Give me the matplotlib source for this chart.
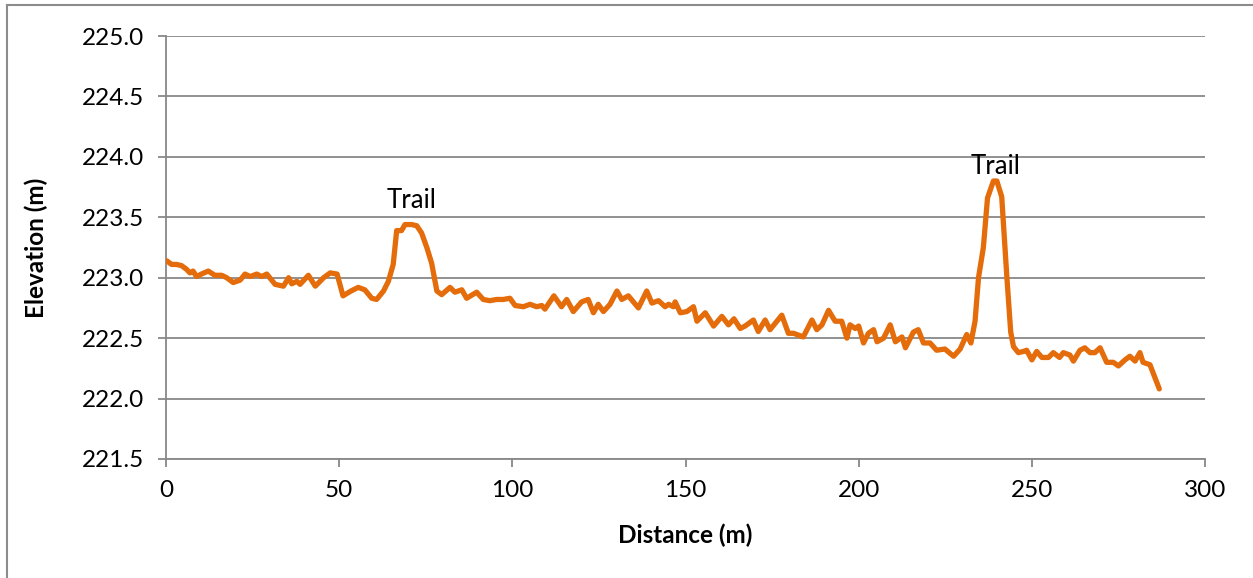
import matplotlib
matplotlib.use('Agg')
import matplotlib.pyplot as plt
from matplotlib.lines import Line2D
from matplotlib.ticker import FormatStrFormatter, MultipleLocator

# Surveyed ground profile along the transect
distance = [0.2, 1.6, 3.0, 4.5, 5.9, 6.9, 7.8, 8.8, 10.2, 12.2, 14.1, 16.1, 17.5,
            19.4, 21.4, 22.8, 24.3, 26.2, 27.6, 29.1, 31.5, 33.9, 35.4, 36.3,
            37.8, 38.7, 41.1, 43.1, 45.5, 47.4, 49.4, 51.1, 53.4, 55.5, 57.4,
            59.4, 60.8, 62.8, 64.2, 65.6, 66.6, 68.0, 69.0, 70.9, 72.4, 73.8,
            75.3, 76.7, 78.2, 79.6, 82.0, 83.4, 85.4, 86.8, 89.7, 91.6, 93.5,
            95.5, 97.4, 99.3, 100.8, 103.2, 105.1, 107.0, 108.5, 109.4, 112.0,
            114.2, 115.7, 117.6, 120.0, 121.9, 123.4, 124.8, 126.3, 128.2,
            130.2, 131.6, 133.5, 136.4, 138.8, 140.3, 142.2, 144.1, 145.1,
            146.5, 147.0, 148.5, 150.4, 152.3, 153.3, 155.7, 158.1, 160.5,
            162.4, 164.0, 165.8, 167.2, 169.6, 171.0, 173.0, 174.4, 177.8,
            179.7, 181.2, 184.0, 186.5, 187.9, 189.4, 191.3, 193.2, 195.1,
            196.6, 197.5, 199.0, 200.0, 201.4, 202.8, 204.3, 205.3, 207.2,
            209.1, 210.6, 212.5, 213.5, 215.8, 217.2, 218.7, 220.6, 222.5,
            224.9, 227.4, 229.3, 231.2, 232.4, 233.6, 234.6, 236.0, 237.2,
            238.9, 239.9, 241.3, 242.8, 243.9, 244.7, 246.1, 247.6, 248.5,
            250.0, 251.4, 252.9, 254.8, 256.2, 258.0, 259.1, 261.0, 262.0,
            263.9, 265.3, 266.8, 268.2, 269.7, 271.6, 273.5, 275.0, 276.9,
            278.3, 279.8, 281.2, 282.1, 284.1, 286.8]
elevation = [223.14, 223.11, 223.11, 223.10, 223.07, 223.04, 223.055, 223.01,
             223.03, 223.055, 223.02, 223.02, 223.00, 222.96, 222.98, 223.03,
             223.01, 223.03, 223.01, 223.03, 222.945, 222.93, 223.00, 222.95,
             222.97, 222.945, 223.02, 222.93, 223.00, 223.04, 223.03, 222.85,
             222.89, 222.92, 222.90, 222.83, 222.82, 222.89, 222.97, 223.11,
             223.39, 223.39, 223.44, 223.44, 223.43, 223.37, 223.25, 223.12,
             222.89, 222.86, 222.92, 222.88, 222.90, 222.83, 222.88, 222.82,
             222.81, 222.82, 222.82, 222.83, 222.77, 222.76, 222.78, 222.76,
             222.77, 222.74, 222.85, 222.76, 222.82, 222.72, 222.80, 222.82,
             222.71, 222.78, 222.72, 222.78, 222.89, 222.82, 222.85, 222.75,
             222.89, 222.79, 222.81, 222.76, 222.78, 222.76, 222.80, 222.71,
             222.72, 222.76, 222.64, 222.71, 222.60, 222.68, 222.61, 222.66,
             222.58, 222.60, 222.65, 222.555, 222.65, 222.57, 222.69, 222.54,
             222.54, 222.51, 222.65, 222.57, 222.61, 222.73, 222.64, 222.64,
             222.50, 222.61, 222.58, 222.60, 222.46, 222.54, 222.57, 222.47,
             222.50, 222.61, 222.47, 222.51, 222.42, 222.55, 222.57, 222.46,
             222.46, 222.40, 222.41, 222.35, 222.41, 222.53, 222.46, 222.64,
             223.00, 223.25, 223.66, 223.80, 223.80, 223.67, 223.00, 222.55,
             222.43, 222.38, 222.39, 222.40, 222.32, 222.39, 222.34, 222.34,
             222.38, 222.34, 222.38, 222.36, 222.31, 222.40, 222.42, 222.38,
             222.38, 222.42, 222.30, 222.30, 222.27, 222.32, 222.35, 222.31,
             222.38, 222.30, 222.28, 222.08]

# Labels placed above the two trail crossings
labels = ["Trail", "Trail"]
label_x = [71.0, 239.4]
label_y = [223.635, 223.92]

plt.rcParams['font.family'] = ['Lato', 'DejaVu Sans']

fig = plt.figure(figsize=(12.53, 5.78), dpi=100)
ax = fig.add_axes([0.1325, 0.2059, 0.8292, 0.7318])

ax.plot(distance, elevation, color='#E46C0A', linewidth=3.8,
        solid_joinstyle='round', solid_capstyle='round', zorder=3)

for text, x, y in zip(labels, label_x, label_y):
    ax.text(x, y, text, ha='center', va='center', fontsize=18.5, color='black',
            zorder=4)

ax.set_xlim(0, 300)
ax.set_ylim(221.5, 225.0)
ax.xaxis.set_major_locator(MultipleLocator(50))
ax.yaxis.set_major_locator(MultipleLocator(0.5))
ax.yaxis.set_major_formatter(FormatStrFormatter('%.1f'))

grid_color = '#888888'
ax.yaxis.grid(True, color=grid_color, linewidth=1.3)
ax.set_axisbelow(True)
for side in ['top', 'right']:
    ax.spines[side].set_visible(False)
for side in ['left', 'bottom']:
    ax.spines[side].set_color(grid_color)
    ax.spines[side].set_linewidth(1.3)
ax.tick_params(axis='both', direction='out', length=6, width=1.3,
               color=grid_color, labelsize=17.5, labelcolor='black')
ax.tick_params(axis='x', pad=9)
ax.tick_params(axis='y', pad=10)

ax.set_xlabel('Distance (m)', fontsize=17.5, fontweight='bold', labelpad=16)
ax.set_ylabel('Elevation (m)', fontsize=17.5, fontweight='bold', labelpad=24)

# chart area border
fig.add_artist(Line2D([7 / 1253, 7 / 1253], [0, 1 - 5 / 578],
                      transform=fig.transFigure, color='#8C8C8C', linewidth=1.5))
fig.add_artist(Line2D([7 / 1253, 1], [1 - 5 / 578, 1 - 5 / 578],
                      transform=fig.transFigure, color='#8C8C8C', linewidth=1.5))

fig.savefig('out.png', dpi=100)
